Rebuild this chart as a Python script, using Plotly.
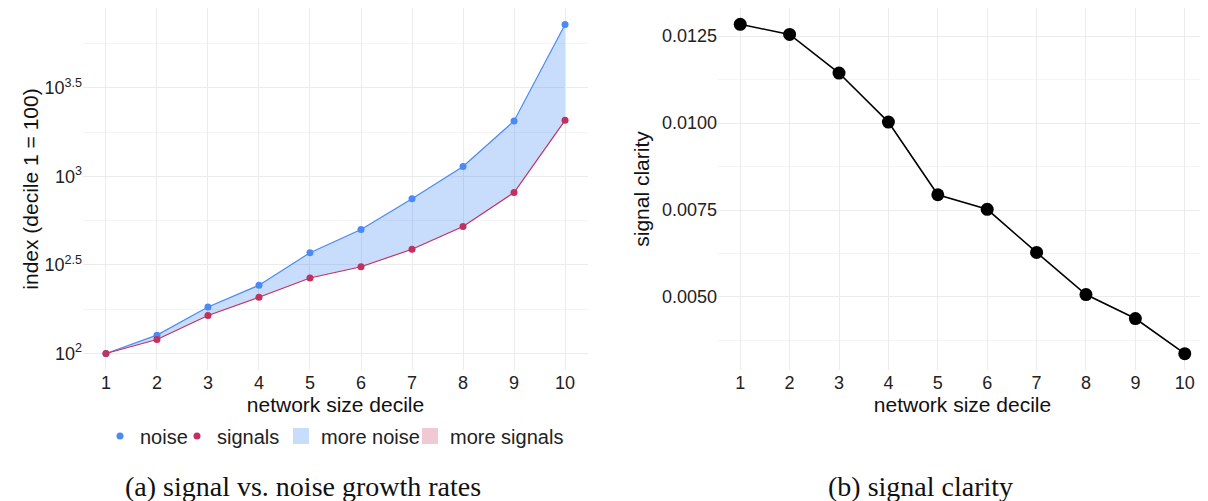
import plotly.graph_objects as go

# values
deciles = list(range(1, 11))
noise = [100, 127, 183, 243, 371, 501, 747, 1138, 2056, 7211]
signals = [100, 120, 164, 208, 267, 309, 388, 521, 811, 2075]
clarity = [0.01284, 0.01255, 0.01144, 0.01003, 0.00794, 0.00752, 0.00628, 0.00507, 0.00438, 0.00337]

log_ticks = [2, 2.5, 3, 3.5]
log_ticktext = ["10<sup>2</sup>", "10<sup>2.5</sup>", "10<sup>3</sup>", "10<sup>3.5</sup>"]
clarity_ticks = [0.0050, 0.0075, 0.0100, 0.0125]

blue = "#4a8af4"
red = "#c2305f"
fill_blue = "rgba(74,138,244,0.30)"
fill_pink = "rgba(220,120,150,0.40)"
grid = "#ebebeb"
font = "Liberation Sans, Arial, sans-serif"

# the page puts the plot 8px in from the window corner
W, H = 1200, 493


def px(x):
    return (x - 8) / W


def py(y):
    return 1 - (y - 8) / H


fig = go.Figure()

# ribbon between the two series
fig.add_trace(go.Scatter(x=deciles, y=signals, mode="lines", line=dict(width=0),
                         showlegend=False, hoverinfo="skip", xaxis="x", yaxis="y"))
fig.add_trace(go.Scatter(x=deciles, y=noise, mode="lines", line=dict(width=0),
                         fill="tonexty", fillcolor=fill_blue, showlegend=False,
                         hoverinfo="skip", xaxis="x", yaxis="y"))

fig.add_trace(go.Scatter(x=deciles, y=noise, mode="lines+markers", name="noise",
                         line=dict(color=blue, width=1.2), marker=dict(color=blue, size=7),
                         showlegend=False, xaxis="x", yaxis="y"))
fig.add_trace(go.Scatter(x=deciles, y=signals, mode="lines+markers", name="signals",
                         line=dict(color=red, width=1.2), marker=dict(color=red, size=7),
                         showlegend=False, xaxis="x", yaxis="y"))

# legend entries (short keys like the reference)
fig.add_trace(go.Scatter(x=[None], y=[None], mode="markers", name="noise",
                         marker=dict(color=blue, size=7),
                         legend="legend", xaxis="x", yaxis="y"))
fig.add_trace(go.Scatter(x=[None], y=[None], mode="markers", name="signals",
                         marker=dict(color=red, size=7),
                         legend="legend2", xaxis="x", yaxis="y"))
fig.add_trace(go.Scatter(x=[None], y=[None], mode="markers", name="more noise",
                         marker=dict(symbol="square", size=18, color=fill_blue),
                         legend="legend3", xaxis="x", yaxis="y"))
fig.add_trace(go.Scatter(x=[None], y=[None], mode="markers", name="more signals",
                         marker=dict(symbol="square", size=18, color=fill_pink),
                         legend="legend4", xaxis="x", yaxis="y"))

# right panel
fig.add_trace(go.Scatter(x=deciles, y=clarity, mode="lines+markers", showlegend=False,
                         line=dict(color="black", width=1.6), marker=dict(color="black", size=13),
                         xaxis="x2", yaxis="y2"))

ydom = [py(370), py(8)]
tickfont = dict(family=font, size=18, color="#222")
titlefont = dict(family=font, size=21, color="#111")
capfont = dict(family="Liberation Serif, serif", size=28, color="#111")


def leg(x):
    return dict(orientation="h", x=px(x), y=py(436), xanchor="left", yanchor="middle",
                font=dict(family=font, size=20, color="#222"), bgcolor="rgba(0,0,0,0)",
                itemwidth=30)


fig.update_layout(
    width=W, height=H,
    margin=dict(l=0, r=0, t=0, b=0),
    paper_bgcolor="white", plot_bgcolor="white",
    font=dict(family=font),
    xaxis=dict(domain=[px(83), px(588)], range=[0.55, 10.45], tickvals=deciles,
               showgrid=True, gridcolor=grid, gridwidth=1, zeroline=False,
               tickfont=tickfont, ticks="",
               title=dict(text="network size decile", font=titlefont, standoff=0),
               anchor="y"),
    yaxis=dict(domain=ydom, type="log", range=[1.907, 3.951],
               tickvals=[10 ** v for v in log_ticks], ticktext=log_ticktext,
               showgrid=True, gridcolor=grid, gridwidth=1, zeroline=False,
               tickfont=tickfont, ticks="",
               minor=dict(tickvals=[10 ** v for v in [2.25, 2.75, 3.25, 3.75]],
                          showgrid=True, gridcolor="#f4f4f4", gridwidth=1),
               title=dict(text="index (decile 1 = 100)", font=titlefont, standoff=0),
               anchor="x"),
    xaxis2=dict(domain=[px(718), px(1207)], range=[0.55, 10.45], tickvals=deciles,
                showgrid=True, gridcolor=grid, gridwidth=1, zeroline=False,
                tickfont=tickfont, ticks="",
                title=dict(text="network size decile", font=titlefont, standoff=0),
                anchor="y2"),
    yaxis2=dict(domain=ydom, range=[0.0029, 0.01331], tickvals=clarity_ticks,
                tickformat=".4f", showgrid=True, gridcolor=grid, gridwidth=1, zeroline=False,
                tickfont=tickfont, ticks="",
                minor=dict(tickvals=[0.00375, 0.00625, 0.00875, 0.01125],
                           showgrid=True, gridcolor="#f4f4f4", gridwidth=1),
                title=dict(text="signal clarity", font=titlefont, standoff=6),
                anchor="x2"),
    legend=leg(100),
    legend2=leg(177),
    legend3=leg(281),
    legend4=leg(410),
    annotations=[
        dict(text="(a) signal vs. noise growth rates", x=px(303), y=py(486),
             xref="paper", yref="paper", xanchor="center", yanchor="middle",
             showarrow=False, font=capfont),
        dict(text="(b) signal clarity", x=px(920), y=py(486),
             xref="paper", yref="paper", xanchor="center", yanchor="middle",
             showarrow=False, font=capfont),
    ],
)

fig.write_html("out.html")
